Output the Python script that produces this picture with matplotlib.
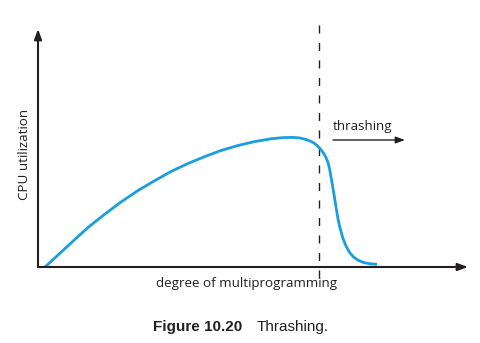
import matplotlib
matplotlib.use("Agg")
import matplotlib.pyplot as plt

# Curve values (arbitrary units: x = degree, y = utilization)
degree = [7, 20, 33, 50, 67, 83, 100, 117, 133, 150, 167, 183, 200, 217, 233, 245, 255, 262,
          268, 272, 276, 279, 282, 284, 286, 288, 290, 291.5, 293, 294.5, 296, 298, 300, 302,
          305, 308, 311, 315, 320, 326, 332, 339]
utilization = [0, 12, 24, 39.5, 53, 65, 76.5, 86.5, 95.5, 103.5, 110.5, 116.5, 121.5, 125.5,
               128.2, 129.4, 129.6, 129, 127.5, 126, 124, 121.5, 118.5, 116, 113, 109.5, 104.5,
               98.5, 90, 81.5, 72.5, 60, 48, 39, 28.5, 21, 15.5, 10.5, 6.8, 4.4, 3.2, 2.7]
threshold = 281
xlabel = "degree of multiprogramming"
ylabel = "CPU utilization"
note = "thrashing"

W, H = 481, 343
fig = plt.figure(figsize=(W / 100, H / 100), dpi=100)
x0, x1, ytop, ybot = 38, 468, 29, 267
ax = fig.add_axes([x0 / W, (H - ybot) / H, (x1 - x0) / W, (ybot - ytop) / H])
ax.set_xlim(0, x1 - x0)
ax.set_ylim(0, ybot - ytop)
ax.axis("off")

ink = "#231f20"
font = "Open Sans"
head = "-|>,head_length=0.6,head_width=0.22"
# axes arrows
ax.annotate("", xy=(x1 - x0, 0), xytext=(0, 0),
            arrowprops=dict(arrowstyle=head, color=ink, lw=1.5, shrinkA=0, shrinkB=0),
            annotation_clip=False)
ax.annotate("", xy=(0, ybot - ytop), xytext=(0, 0),
            arrowprops=dict(arrowstyle=head, color=ink, lw=1.5, shrinkA=0, shrinkB=0),
            annotation_clip=False)

# dashed threshold line
ax.plot([threshold, threshold], [-11, 242], color=ink, lw=1.0,
        dashes=(5.8, 6.8), clip_on=False)

# curve
ax.plot(degree, utilization, color="#1a9ee0", lw=2.0, solid_capstyle="butt",
        solid_joinstyle="round", clip_on=False)

# thrashing arrow + label
ax.annotate("", xy=(367, 127), xytext=(295, 127),
            arrowprops=dict(arrowstyle="-|>,head_length=0.55,head_width=0.2", color=ink, lw=1.0,
                            shrinkA=0, shrinkB=0))
ax.text(295, 134, note, fontsize=9.6, family=font, color=ink, ha="left", va="bottom")

fig.text(247 / W, 1 - 283 / H, xlabel, fontsize=9.6, family=font, color=ink,
         ha="center", va="center")
fig.text(25 / W, 1 - 154 / H, ylabel, fontsize=9.6, family=font, color=ink,
         ha="center", va="center", rotation=90)

fig.text(153 / W, 1 - 327 / H, "Figure 10.20", fontsize=11, family="Liberation Sans",
         weight="bold", color=ink, ha="left", va="center")
fig.text(257 / W, 1 - 327 / H, "Thrashing.", fontsize=11, family="Liberation Sans",
         color=ink, ha="left", va="center")

fig.savefig("out.png", dpi=100)
